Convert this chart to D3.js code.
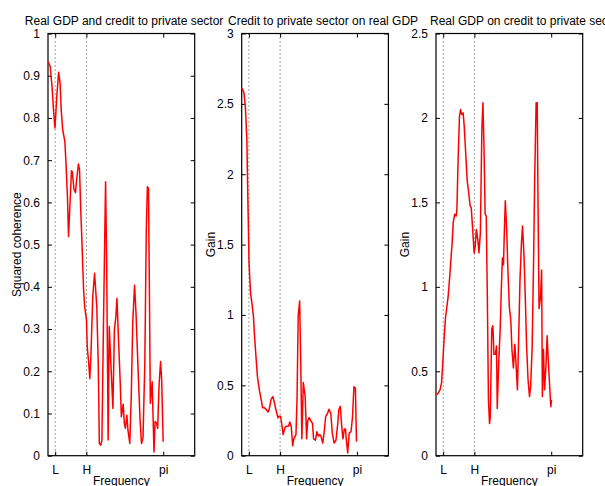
<!DOCTYPE html>
<html lang="en">
<head>
<meta charset="UTF-8">
<title>Coherence and gain</title>
<style>
  body { margin: 0; background: #fff; }
  text { font-family: "Liberation Sans", Arial, sans-serif; fill: #000; }
</style>
</head>
<body>
<svg width="605" height="486"></svg>
<script src="https://cdn.jsdelivr.net/npm/d3@7"></script>
<script>
// frequency ticks
var tickValues = [2 * Math.PI / 32, 2 * Math.PI / 6, Math.PI];
var tickLabels = ["L", "H", "pi"];

var titles = ["Real GDP and credit to private sector",
              "Credit to private sector on real GDP",
              "Real GDP on credit to private sector"];
var yLabels = ["Squared coherence", "Gain", "Gain"];
var yMax = [1, 3, 2.5];
var yStep = [0.1, 0.5, 0.5];

// panel 1: squared coherence
var freq1 = [0, 0.06, 0.11, 0.15, 0.19, 0.24, 0.29, 0.33, 0.36, 0.40, 0.46, 0.49, 0.53, 0.56, 0.60, 0.64, 0.66, 0.71,
  0.75, 0.78, 0.83, 0.86, 0.89, 0.93, 0.97, 1.00, 1.05, 1.07, 1.11, 1.14, 1.17, 1.22, 1.27, 1.33, 1.37, 1.40, 1.44,
  1.47, 1.51, 1.57, 1.60, 1.64, 1.67, 1.71, 1.77, 1.81, 1.85, 1.88, 1.92, 1.97, 2.00, 2.05, 2.08, 2.11, 2.15, 2.18,
  2.23, 2.27, 2.31, 2.36, 2.40, 2.46, 2.51, 2.55, 2.59, 2.64, 2.68, 2.71, 2.74, 2.77, 2.79, 2.84, 2.89, 2.92, 2.96,
  2.99, 3.03, 3.07, 3.10, 3.14];
var coh = [0.934, 0.922, 0.874, 0.819, 0.776, 0.851, 0.908, 0.882, 0.819, 0.772, 0.744, 0.693, 0.614, 0.519, 0.598,
  0.675, 0.673, 0.630, 0.623, 0.653, 0.691, 0.677, 0.590, 0.495, 0.393, 0.353, 0.321, 0.258, 0.219, 0.183, 0.235,
  0.377, 0.432, 0.353, 0.219, 0.029, 0.025, 0.037, 0.298, 0.649, 0.456, 0.037, 0.306, 0.227, 0.112, 0.298, 0.329,
  0.373, 0.282, 0.171, 0.092, 0.122, 0.077, 0.065, 0.096, 0.061, 0.029, 0.140, 0.314, 0.404, 0.337, 0.195, 0.085,
  0.029, 0.041, 0.219, 0.535, 0.637, 0.633, 0.337, 0.124, 0.175, 0.009, 0.081, 0.077, 0.065, 0.171, 0.223, 0.179,
  0.033];

// panel 2: gain, credit on GDP
var freq2 = [0.01, 0.06, 0.10, 0.14, 0.17, 0.20, 0.24, 0.28, 0.32, 0.35, 0.39, 0.43, 0.48, 0.53, 0.57, 0.62, 0.66,
  0.72, 0.75, 0.80, 0.85, 0.90, 0.93, 0.99, 1.02, 1.06, 1.09, 1.13, 1.18, 1.22, 1.28, 1.31, 1.35, 1.39, 1.42, 1.48,
  1.51, 1.54, 1.58, 1.61, 1.64, 1.68, 1.73, 1.77, 1.80, 1.84, 1.88, 1.93, 1.96, 2.01, 2.05, 2.09, 2.13, 2.16, 2.21,
  2.25, 2.29, 2.34, 2.38, 2.43, 2.47, 2.52, 2.57, 2.62, 2.65, 2.69, 2.72, 2.76, 2.80, 2.83, 2.85, 2.89, 2.93, 2.98,
  3.02, 3.06, 3.10, 3.13];
var gain2 = [2.61, 2.58, 2.48, 2.25, 1.80, 1.37, 1.16, 1.08, 0.99, 0.85, 0.70, 0.56, 0.47, 0.40, 0.34, 0.34, 0.33,
  0.31, 0.33, 0.40, 0.42, 0.37, 0.33, 0.27, 0.28, 0.28, 0.23, 0.15, 0.20, 0.21, 0.21, 0.24, 0.21, 0.07, 0.12, 0.15,
  0.42, 0.99, 1.10, 0.66, 0.12, 0.52, 0.42, 0.12, 0.25, 0.27, 0.25, 0.23, 0.12, 0.11, 0.17, 0.14, 0.15, 0.14, 0.09,
  0.17, 0.28, 0.30, 0.33, 0.30, 0.16, 0.09, 0.11, 0.23, 0.33, 0.35, 0.23, 0.12, 0.19, 0.19, 0.12, 0.02, 0.16, 0.17,
  0.27, 0.49, 0.48, 0.10];

// panel 3: gain, GDP on credit
var freq3 = [0, 0.06, 0.11, 0.15, 0.18, 0.22, 0.26, 0.29, 0.33, 0.36, 0.40, 0.44, 0.47, 0.51, 0.55, 0.57, 0.60, 0.64,
  0.67, 0.70, 0.74, 0.77, 0.81, 0.85, 0.89, 0.93, 0.96, 1.00, 1.04, 1.07, 1.10, 1.14, 1.17, 1.21, 1.25, 1.28, 1.31,
  1.34, 1.37, 1.40, 1.43, 1.46, 1.48, 1.52, 1.55, 1.58, 1.62, 1.65, 1.67, 1.71, 1.75, 1.78, 1.81, 1.84, 1.86, 1.89,
  1.93, 1.96, 2.00, 2.04, 2.07, 2.11, 2.15, 2.18, 2.22, 2.26, 2.29, 2.33, 2.36, 2.40, 2.44, 2.47, 2.51, 2.55, 2.58,
  2.62, 2.66, 2.69, 2.73, 2.76, 2.78, 2.81, 2.85, 2.88, 2.90, 2.93, 2.96, 3.00, 3.03, 3.06, 3.09, 3.13, 3.15];
var gain3 = [0.36, 0.37, 0.39, 0.43, 0.53, 0.69, 0.82, 0.87, 0.94, 1.02, 1.14, 1.26, 1.38, 1.43, 1.42, 1.46, 1.73,
  2.01, 2.05, 2.02, 2.03, 1.95, 1.79, 1.63, 1.56, 1.48, 1.47, 1.34, 1.20, 1.24, 1.34, 1.28, 1.20, 1.32, 1.93, 2.09,
  1.81, 1.43, 1.42, 0.94, 0.33, 0.19, 0.23, 0.75, 0.77, 0.60, 0.60, 0.65, 0.28, 0.55, 0.75, 0.98, 1.17, 1.13, 1.30,
  1.51, 1.32, 1.10, 0.88, 0.80, 0.63, 0.52, 0.66, 0.55, 0.39, 0.75, 1.04, 1.26, 1.36, 1.18, 0.90, 0.65, 0.45, 0.35,
  0.41, 0.63, 1.14, 1.63, 2.09, 2.09, 1.54, 0.87, 0.94, 1.10, 0.35, 0.63, 0.39, 0.54, 0.71, 0.57, 0.45, 0.29, 0.33];

var series = [[freq1, coh], [freq2, gain2], [freq3, gain3]];

var svg = d3.select("svg");
var panelLeft = [48, 241.7, 436];
var plotTop = 33.5, w = 146.7, h = 422.2, tick = 4;
var fontSize = 12;

series.forEach(function (s, k) {
  var g = svg.append("g").attr("transform", "translate(" + panelLeft[k] + "," + plotTop + ")");
  var x = d3.scaleLinear().domain([0, 4]).range([0, w]);
  var y = d3.scaleLinear().domain([0, yMax[k]]).range([h, 0]);
  var yTicks = d3.range(0, yMax[k] + 1e-9, yStep[k]);

  // dotted L and H lines
  g.selectAll(".band").data(tickValues.slice(0, 2)).enter().append("line")
    .attr("x1", function (d) { return x(d); }).attr("x2", function (d) { return x(d); })
    .attr("y1", 0).attr("y2", h)
    .attr("stroke", "#444").attr("stroke-width", 1).attr("stroke-dasharray", "1,3");

  // inward ticks on all four sides
  var axB = d3.axisBottom(x).tickValues(tickValues).tickFormat(function (d, i) { return tickLabels[i]; })
    .tickSizeInner(-tick).tickSizeOuter(0).tickPadding(10);
  var axT = d3.axisTop(x).tickValues(tickValues).tickFormat("").tickSizeInner(-tick).tickSizeOuter(0);
  var axL = d3.axisLeft(y).tickValues(yTicks).tickFormat(d3.format("~g"))
    .tickSizeInner(-tick).tickSizeOuter(0).tickPadding(8);
  var axR = d3.axisRight(y).tickValues(yTicks).tickFormat("").tickSizeInner(-tick).tickSizeOuter(0);

  g.append("g").attr("transform", "translate(0," + h + ")").call(axB);
  g.append("g").call(axT);
  g.append("g").call(axL);
  g.append("g").attr("transform", "translate(" + w + ",0)").call(axR);
  g.selectAll(".domain").remove();
  g.selectAll(".tick line").attr("stroke", "#000");
  g.selectAll(".tick text").attr("font-size", fontSize).attr("font-family", "Liberation Sans, Arial, sans-serif")
    .attr("fill", "#000");

  g.append("rect").attr("width", w).attr("height", h)
    .attr("fill", "none").attr("stroke", "#000").attr("stroke-width", 1.2);

  var line = d3.line()
    .x(function (d) { return x(d[0]); })
    .y(function (d) { return y(d[1]); });
  g.append("path").datum(d3.zip(s[0], s[1]))
    .attr("d", line).attr("fill", "none").attr("stroke", "#ff0000").attr("stroke-width", 1.5)
    .attr("stroke-linejoin", "round");

  g.append("text").attr("x", w / 2).attr("y", 451.5).attr("text-anchor", "middle")
    .attr("font-size", fontSize).text("Frequency");
  g.append("text").attr("transform", "translate(-27," + h / 2 + ") rotate(-90)")
    .attr("text-anchor", "middle").attr("font-size", fontSize).text(yLabels[k]);
});

// titles sit side by side above the panels
var titleX = [24.8, 228, 430];
svg.selectAll(".title").data(titles).enter().append("text")
  .attr("x", function (d, i) { return titleX[i]; }).attr("y", 25)
  .attr("font-size", fontSize).text(function (d) { return d; });
</script>
</body>
</html>
